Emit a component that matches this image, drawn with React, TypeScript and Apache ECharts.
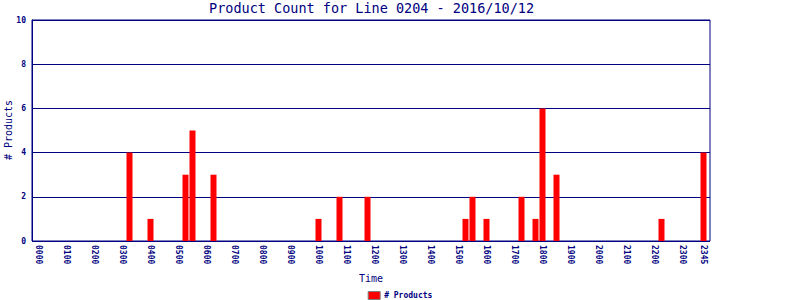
import React, { useEffect, useRef } from "react";
import * as echarts from "echarts";

const titleText = "Product Count for Line 0204 - 2016/10/12";
const seriesName = "# Products";
const xName = "Time";
const yName = "# Products";

// 15-minute slots 0000..2345
const hours = ["00","01","02","03","04","05","06","07","08","09","10","11","12","13","14","15","16","17","18","19","20","21","22","23"];
const minutes = ["00","15","30","45"];
const timeSlots: string[] = [];
hours.forEach((h) => minutes.forEach((m) => timeSlots.push(h + m)));

// counts per 15-minute slot, one row per hour
const counts = [
  0, 0, 0, 0, // 00
  0, 0, 0, 0, // 01
  0, 0, 0, 0, // 02
  0, 4, 0, 0, // 03
  1, 0, 0, 0, // 04
  0, 3, 5, 0, // 05
  0, 3, 0, 0, // 06
  0, 0, 0, 0, // 07
  0, 0, 0, 0, // 08
  0, 0, 0, 0, // 09
  1, 0, 0, 2, // 10
  0, 0, 0, 2, // 11
  0, 0, 0, 0, // 12
  0, 0, 0, 0, // 13
  0, 0, 0, 0, // 14
  0, 1, 2, 0, // 15
  1, 0, 0, 0, // 16
  0, 2, 0, 1, // 17
  6, 0, 3, 0, // 18
  0, 0, 0, 0, // 19
  0, 0, 0, 0, // 20
  0, 0, 0, 0, // 21
  0, 1, 0, 0, // 22
  0, 0, 0, 4, // 23
];

const yMin = 0;
const yMax = 10;
const yStep = 2;

const NAVY = "#000080";
const FONT = "DejaVu Sans Mono";

export default function App() {
  const ref = useRef<HTMLDivElement>(null);
  useEffect(() => {
    if (!ref.current) return;
    const chart = echarts.init(ref.current, null, { renderer: "svg" });
    const lastIdx = timeSlots.length - 1;
    chart.setOption({
      animation: false,
      backgroundColor: "#ffffff",
      title: {
        text: titleText,
        left: 209,
        top: 1,
        padding: 0,
        textStyle: { fontFamily: FONT, fontSize: 13.5, fontWeight: "normal", color: NAVY },
      },
      legend: {
        data: [{ name: seriesName, icon: "rect", itemStyle: { color: "#ff0000", borderColor: "#808080", borderWidth: 1 } }],
        left: "center",
        top: 291,
        itemWidth: 12,
        itemHeight: 8,
        padding: 0,
        textStyle: { fontFamily: FONT, fontSize: 8, fontWeight: "bold", color: NAVY, padding: [0, 0, 0, -1] },
      },
      graphic: [
        {
          type: "text",
          x: 8,
          y: 130,
          rotation: Math.PI / 2,
          style: {
            text: yName,
            fontFamily: FONT,
            fontSize: 10,
            fill: NAVY,
            align: "center",
            verticalAlign: "middle",
          },
        },
      ],
      grid: [
        { left: 32, top: 20, width: 678, height: 221, show: true, borderColor: NAVY, borderWidth: 1, backgroundColor: "transparent", containLabel: false, outerBoundsMode: "none" },
        { left: 35, top: 20, width: 672, height: 221, containLabel: false, outerBoundsMode: "none" },
      ],
      xAxis: [
        { type: "value", gridIndex: 0, show: false, min: 0, max: 1 },
        {
          type: "category",
          gridIndex: 1,
          data: timeSlots,
          boundaryGap: true,
          axisLine: { show: false },
          axisTick: { show: false },
          splitLine: { show: false },
          name: xName,
          nameLocation: "middle",
          nameGap: 32,
          nameTextStyle: { fontFamily: FONT, fontSize: 10, color: NAVY },
          axisLabel: {
            rotate: -90,
            margin: 4,
            interval: (i: number) => i % 4 === 0 || i === lastIdx,
            fontFamily: FONT,
            fontSize: 8,
            fontWeight: "bold",
            color: NAVY,
          },
        },
      ],
      yAxis: [
        {
          type: "value",
          gridIndex: 0,
          min: yMin,
          max: yMax,
          interval: yStep,
          axisLine: { show: true, lineStyle: { color: NAVY } },
          axisTick: { show: false },
          splitLine: { show: true, lineStyle: { color: NAVY, width: 1 } },
          axisLabel: { margin: 6, fontFamily: FONT, fontSize: 8, fontWeight: "bold", color: NAVY },
        },
        { type: "value", gridIndex: 1, show: false, min: yMin, max: yMax },
      ],
      series: [
        {
          name: seriesName,
          type: "bar",
          xAxisIndex: 1,
          yAxisIndex: 1,
          data: counts,
          barWidth: 6,
          itemStyle: { color: "#ff0000" },
        },
      ],
    });
    return () => chart.dispose();
  }, []);
  return <div ref={ref} style={{ width: 800, height: 300, position: "absolute", left: 0, top: 0 }} />;
}
